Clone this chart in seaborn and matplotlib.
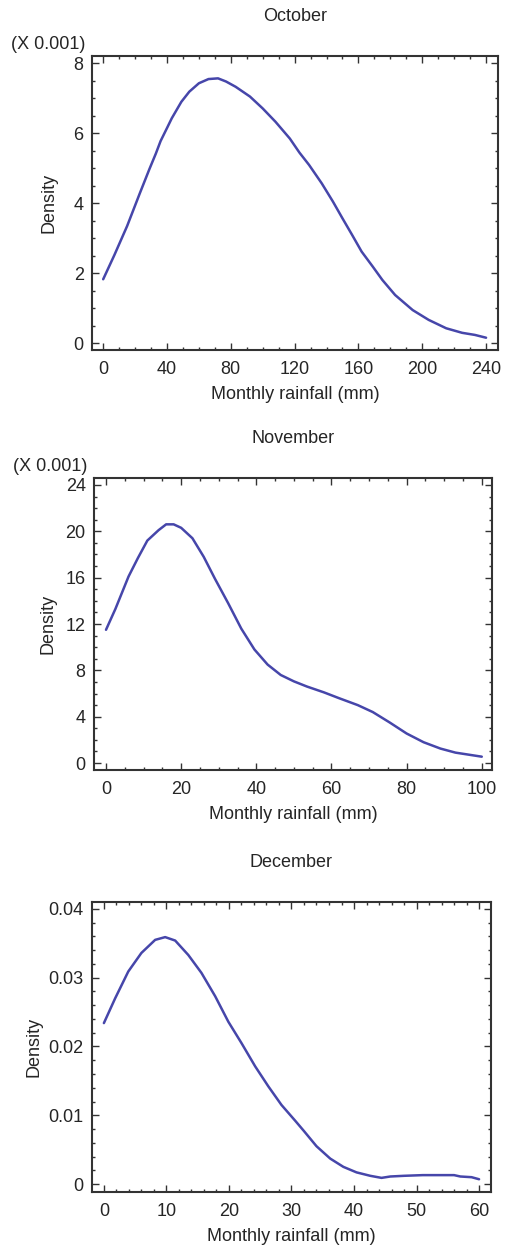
import numpy as np
import pandas as pd
import matplotlib
matplotlib.use("Agg")
import matplotlib.pyplot as plt
import seaborn as sns
from matplotlib.ticker import MultipleLocator, FuncFormatter

# October: density read in units of 0.001
oct_rain = [0, 7, 15, 23, 29, 33, 36, 40, 43, 49, 54, 60, 66, 72, 77, 83, 92, 100,
            108, 117, 123, 129, 137, 144, 150, 156, 162, 169, 175, 183, 194, 204,
            215, 225, 233, 240]
oct_density = [1.83, 2.52, 3.35, 4.29, 4.98, 5.42, 5.78, 6.15, 6.43, 6.9, 7.19,
               7.43, 7.55, 7.57, 7.48, 7.33, 7.05, 6.71, 6.33, 5.85, 5.45, 5.1,
               4.57, 4.05, 3.57, 3.1, 2.62, 2.19, 1.81, 1.38, 0.95, 0.67, 0.43,
               0.30, 0.24, 0.16]

# November: density read in units of 0.001
nov_rain = [0, 2.5, 6, 8.5, 11, 14, 16, 18, 20, 23, 26, 29, 32.5, 36, 39.5, 43,
            46.5, 50, 53.5, 58, 62, 67, 71, 75.5, 80, 84.5, 89, 93, 97, 100]
nov_density = [11.5, 13.3, 16.1, 17.7, 19.2, 20.1, 20.6, 20.6, 20.3, 19.4, 17.8,
               15.9, 13.8, 11.6, 9.8, 8.5, 7.6, 7.05, 6.6, 6.1, 5.6, 5.0, 4.4,
               3.5, 2.55, 1.8, 1.25, 0.9, 0.7, 0.55]

# December: density read as is
dec_rain = [0, 1.8, 3.9, 6, 8.2, 9.8, 11.4, 13.5, 15.6, 17.8, 19.9, 22, 24.2,
            26.3, 28.4, 30.6, 32, 34, 36.2, 38.3, 40.4, 42.6, 44.4, 45.8, 48,
            51, 56, 57, 58.8, 60]
dec_density = [0.0234, 0.0270, 0.0309, 0.0336, 0.0355, 0.0359, 0.0354, 0.0333,
               0.0307, 0.0273, 0.0236, 0.0205, 0.0171, 0.0142, 0.0115, 0.0092,
               0.0077, 0.0055, 0.0037, 0.0025, 0.0017, 0.0012, 0.0009, 0.0011,
               0.0012, 0.0013, 0.0013, 0.0011, 0.0010, 0.0007]

months = ["October", "November", "December"]

sns.set_theme(style="ticks")
plt.rcParams['font.family'] = ['Liberation Sans', 'DejaVu Sans']

text_col = "#252525"
line_col = "#4646aa"

fig = plt.figure(figsize=(5.05, 12.49), dpi=100)

panels = [
    dict(rain=oct_rain, dens=oct_density, pos=[0.1822, 0.7198, 0.804, 0.2354],
         xlim=(-7, 247.5), ylim=(-0.19, 8.21), xmaj=40, xmin=10, ymaj=2, ymin=0.5,
         ylab_x=-0.086, scale=True),
    dict(rain=nov_rain, dens=nov_density, pos=[0.1861, 0.3835, 0.788, 0.2338],
         xlim=(-3.2, 102.7), ylim=(-0.6, 24.6), xmaj=20, xmin=5, ymaj=4, ymin=1,
         ylab_x=-0.093, scale=True),
    dict(rain=dec_rain, dens=dec_density, pos=[0.1822, 0.0456, 0.790, 0.2322],
         xlim=(-1.9, 61.9), ylim=(-0.00116, 0.041), xmaj=10, xmin=2, ymaj=0.01,
         ymin=0.002, ylab_x=-0.125, scale=False),
]

for month, p in zip(months, panels):
    ax = fig.add_axes(p["pos"])
    df = pd.DataFrame({"rain": p["rain"], "density": p["dens"]})
    sns.lineplot(x="rain", y="density", data=df, ax=ax, color=line_col, lw=1.8)

    ax.set_xlim(*p["xlim"])
    ax.set_ylim(*p["ylim"])
    ax.xaxis.set_major_locator(MultipleLocator(p["xmaj"]))
    ax.xaxis.set_minor_locator(MultipleLocator(p["xmin"]))
    ax.yaxis.set_major_locator(MultipleLocator(p["ymaj"]))
    ax.yaxis.set_minor_locator(MultipleLocator(p["ymin"]))
    ax.yaxis.set_major_formatter(FuncFormatter(lambda v, _: f"{round(v, 6):g}"))
    ax.xaxis.set_major_formatter(FuncFormatter(lambda v, _: f"{round(v, 6):g}"))

    ax.tick_params(which="both", direction="in", top=True, right=True,
                   color="#333333", width=1.0, labelsize=13, labelcolor=text_col)
    ax.tick_params(which="major", length=5)
    ax.tick_params(which="minor", length=2.5)
    ax.tick_params(axis="x", pad=8)
    ax.tick_params(axis="y", pad=6)
    for s in ax.spines.values():
        s.set_visible(True)
        s.set_color("#333333")
        s.set_linewidth(1.5)

    ax.set_title(month, fontsize=13, color=text_col, pad=25)
    ax.set_xlabel("Monthly rainfall (mm)", fontsize=13, color=text_col, labelpad=6)
    ax.set_ylabel("Density", fontsize=13, color=text_col)
    ax.yaxis.set_label_coords(p["ylab_x"], 0.5)

    if p["scale"]:
        ax.annotate("(X 0.001)", xy=(0, 1), xycoords="axes fraction",
                    xytext=(-5, 8), textcoords="offset points",
                    ha="right", va="center", fontsize=13, color=text_col)

plt.savefig("out.png", dpi=100)
